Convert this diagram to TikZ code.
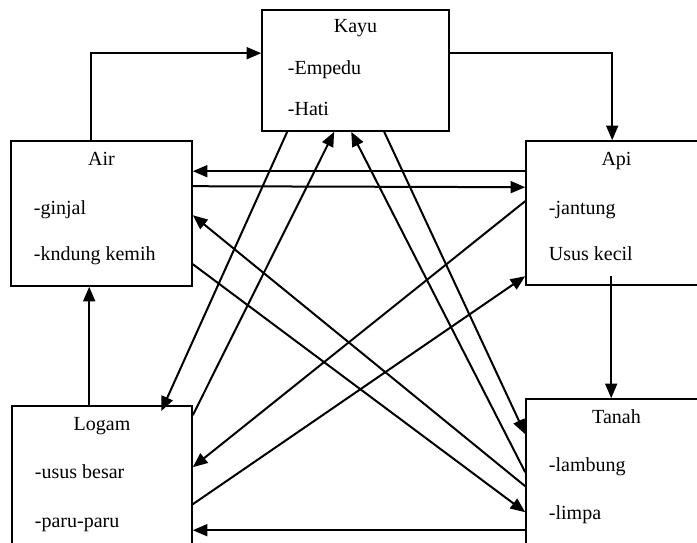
\documentclass[tikz,border=0pt]{standalone}
\usepackage{fontspec}
\setmainfont{Liberation Serif}
\usetikzlibrary{arrows.meta,calc}

\begin{document}
\begin{tikzpicture}[x=0.75pt, y=-0.75pt, every node/.style={font=\fontsize{15}{18}\selectfont},
    box/.style={draw, line width=1.2pt, inner sep=0pt},
    arr/.style={-{Triangle[length=11pt,width=9pt]}, line width=1.5pt}]
      \useasboundingbox (0,0) rectangle (697,543);
      % boxes
      \node[box, minimum width=187*0.75pt, minimum height=121*0.75pt] (kayu) at (355.5,70.5) {};
      \node[box, minimum width=181*0.75pt, minimum height=145*0.75pt] (air) at (101.5,213.5) {};
      \node[box, minimum width=181*0.75pt, minimum height=144*0.75pt] (api) at (616.5,213) {};
      \node[box, minimum width=180*0.75pt, minimum height=145*0.75pt] (logam) at (102,478.5) {};
      \node[box, minimum width=181*0.75pt, minimum height=145*0.75pt] (tanah) at (616.5,471.5) {};
      % texts
      \node[anchor=mid] (kayu-t) at ($(kayu.north)+(0,20)$) {Kayu};
      \node[anchor=mid west] (kayu-a) at ($(kayu.north west)+(22,62)$) {-Empedu};
      \node[anchor=mid west] (kayu-b) at ($(kayu.north west)+(22,103)$) {-Hati};
      \node[anchor=mid] (air-t) at ($(air.north)+(0,22)$) {Air};
      \node[anchor=mid west] (air-a) at ($(air.north west)+(19,71)$) {-ginjal};
      \node[anchor=mid west] (air-b) at ($(air.north west)+(19,117)$) {-kndung kemih};
      \node[anchor=mid] (api-t) at ($(api.north)+(0,22)$) {Api};
      \node[anchor=mid west] (api-a) at ($(api.north west)+(19,71)$) {-jantung};
      \node[anchor=mid west] (api-b) at ($(api.north west)+(19,117)$) {Usus kecil};
      \node[anchor=mid] (logam-t) at ($(logam.north)+(0,22)$) {Logam};
      \node[anchor=mid west] (logam-a) at ($(logam.north west)+(19,70)$) {-usus besar};
      \node[anchor=mid west] (logam-b) at ($(logam.north west)+(19,119)$) {-paru-paru};
      \node[anchor=mid] (tanah-t) at ($(tanah.north)+(0,22)$) {Tanah};
      \node[anchor=mid west] (tanah-a) at ($(tanah.north west)+(19,70)$) {-lambung};
      \node[anchor=mid west] (tanah-b) at ($(tanah.north west)+(19,118)$) {-limpa};
      % outer cycle
      \draw[arr] ($(air.north west)+(81,0)$) |- ($(kayu.north west)+(0,44)$);
      \draw[arr] ($(kayu.north east)+(0,44)$) -| ($(api.north west)+(87,0)$);
      \draw[arr] ($(api.south west)+(86,-10)$) -- ($(tanah.north west)+(86,0)$);
      \draw[arr] ($(tanah.north west)+(0,132)$) -- ($(logam.north east)+(0,125)$);
      \draw[arr] ($(logam.north west)+(78,0)$) -- ($(air.south west)+(79,0)$);
      % air and api
      \draw[arr] ($(api.north west)+(0,31)$) -- ($(air.north east)+(0,31)$);
      \draw[arr] ($(air.north east)+(0,46)$) -- ($(api.north west)+(0,47)$);
      % crossing lines
      \draw[arr] ($(kayu.south west)+(26,0)$) -- ($(logam.north west)+(150,6)$);
      \draw[arr] ($(logam.north east)+(0,10)$) -- ($(kayu.south west)+(73,0)$);
      \draw[arr] ($(tanah.north west)+(0,74)$) -- ($(kayu.south west)+(90,0)$);
      \draw[arr] ($(kayu.south west)+(123,0)$) -- ($(tanah.north west)+(0,36)$);
      \draw[arr] ($(tanah.north west)+(0,88)$) -- ($(air.north east)+(0,75)$);
      \draw[arr] ($(air.north east)+(0,124)$) -- ($(tanah.north west)+(0,114)$);
      \draw[arr] ($(api.north west)+(0,61)$) -- ($(logam.north east)+(0,62)$);
      \draw[arr] ($(logam.north east)+(0,99)$) -- ($(api.north west)+(0,136)$);
    \end{tikzpicture}
\end{document}
